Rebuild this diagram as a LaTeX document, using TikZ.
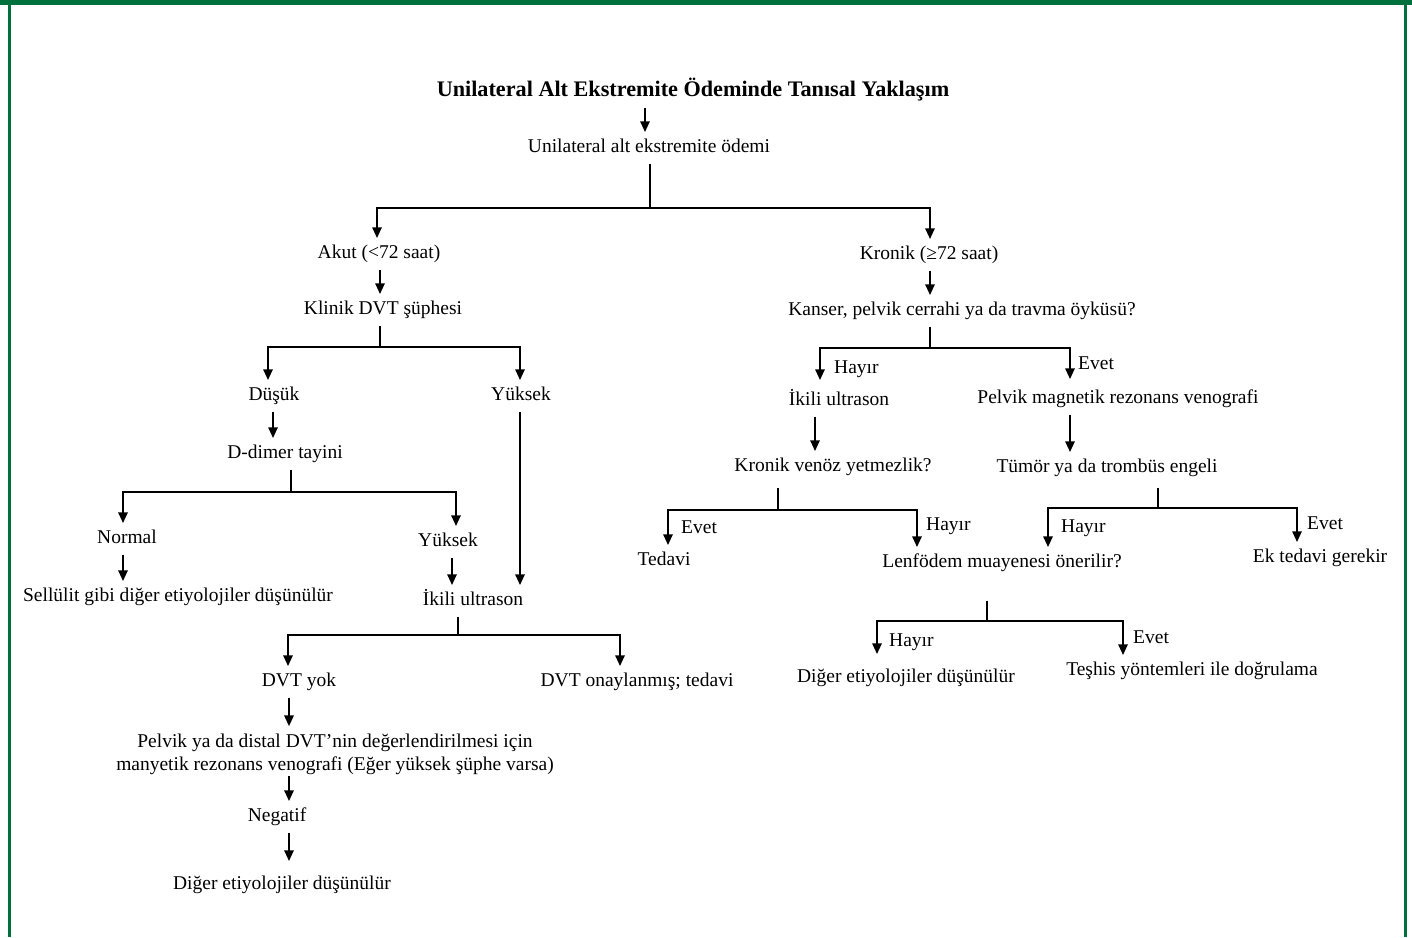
\documentclass[tikz,border=0pt]{standalone}
\usepackage{fontspec}
\setmainfont{Liberation Serif}
\usetikzlibrary{arrows.meta}
\definecolor{frame}{RGB}{0,112,60}
\begin{document}
\begin{tikzpicture}[x=1pt,y=-1pt,
  txt/.style={inner xsep=2pt, inner ysep=7pt, yshift=-3pt, text height=13pt, text depth=4pt, font=\fontsize{19.5}{23}\selectfont},
  lbl/.style={txt, anchor=west, inner xsep=0pt},
  ttl/.style={txt, font=\fontsize{22.2}{25}\selectfont\bfseries},
  ln/.style={line width=2.8pt, line join=miter},
  arr/.style={ln, -{Triangle[length=11pt,width=9pt]}}]
\useasboundingbox (0,0) rectangle (1412,937);
% frame
\fill[frame] (0,0) rectangle (1412,5);
\fill[frame] (8,0) rectangle (11,937);
\fill[frame] (1404,0) rectangle (1407,937);

% nodes
\node[ttl] (title) at (693,89) {Unilateral Alt Ekstremite Ödeminde Tanısal Yaklaşım};
\node[txt] (n1) at (649,145) {Unilateral alt ekstremite ödemi};
\node[txt] (akut) at (379,251) {Akut (<72 saat)};
\node[txt] (kronik) at (929,252) {Kronik (≥72 saat)};
\node[txt] (klinik) at (383,307) {Klinik DVT şüphesi};
\node[txt] (kanser) at (962,308) {Kanser, pelvik cerrahi ya da travma öyküsü?};
\node[txt] (dusuk) at (274,393) {Düşük};
\node[txt] (yuksekA) at (521,393) {Yüksek};
\node[txt] (ddimer) at (285,451) {D-dimer tayini};
\node[txt] (normal) at (127,536) {Normal};
\node[txt] (yuksekB) at (448,539) {Yüksek};
\node[txt] (sellulit) at (178,594) {Sellülit gibi diğer etiyolojiler düşünülür};
\node[txt] (ikiliA) at (473,598) {İkili ultrason};
\node[txt] (dvtyok) at (299,679) {DVT yok};
\node[txt] (dvtonay) at (637,679) {DVT onaylanmış; tedavi};
\node[txt, align=center, text height=, text depth=] (pelvik) at (335,751) {Pelvik ya da distal DVT’nin değerlendirilmesi için\\manyetik rezonans venografi (Eğer yüksek şüphe varsa)};
\node[txt] (negatif) at (277,814) {Negatif};
\node[txt] (digerA) at (282,882) {Diğer etiyolojiler düşünülür};

\node[txt] (ikiliB) at (839,398) {İkili ultrason};
\node[txt] (pmrv) at (1118,396) {Pelvik magnetik rezonans venografi};
\node[txt] (kvy) at (833,464) {Kronik venöz yetmezlik?};
\node[txt] (tumor) at (1107,465) {Tümör ya da trombüs engeli};
\node[txt] (tedavi) at (664,558) {Tedavi};
\node[txt] (lenf) at (1002,560) {Lenfödem muayenesi önerilir?};
\node[txt] (ektedavi) at (1320,555) {Ek tedavi gerekir};
\node[txt] (digerB) at (906,675) {Diğer etiyolojiler düşünülür};
\node[txt] (teshis) at (1192,668) {Teşhis yöntemleri ile doğrulama};

% branch labels
\node[lbl] (l1) at (834,366) {Hayır};
\node[lbl] (l2) at (1078,362) {Evet};
\node[lbl] (l3) at (681,526) {Evet};
\node[lbl] (l4) at (926,523) {Hayır};
\node[lbl] (l5) at (1061,525) {Hayır};
\node[lbl] (l6) at (1307,522) {Evet};
\node[lbl] (l7) at (889,639) {Hayır};
\node[lbl] (l8) at (1133,636) {Evet};

% junctions
\coordinate (j1) at (650,208);
\coordinate (j2) at (380,347);
\coordinate (j3) at (291,492);
\coordinate (j4) at (458,635);
\coordinate (j5) at (930,348);
\coordinate (j6) at (778,510);
\coordinate (j7) at (1158,508);
\coordinate (j8) at (987,621);

% connectors left
\draw[arr] ([xshift=-48pt]title.south) -- ([xshift=-48pt]title.south |- n1.north);
\draw[ln] (n1.south -| j1) -- (j1);
\draw[arr] (j1) -| ([xshift=-2pt]akut.north);
\draw[arr] (j1) -| ([xshift=1pt]kronik.north);
\draw[arr] ([xshift=1pt]akut.south) -- ([xshift=1pt]akut.south |- klinik.north);
\draw[ln] (klinik.south -| j2) -- (j2);
\draw[arr] (j2) -| ([xshift=-6pt]dusuk.north);
\draw[arr] (j2) -| ([xshift=-1pt]yuksekA.north);
\draw[arr] ([xshift=-1pt]dusuk.south) -- ([xshift=-1pt]dusuk.south |- ddimer.north);
\draw[ln] (ddimer.south -| j3) -- (j3);
\draw[arr] (j3) -| ([xshift=-4pt]normal.north);
\draw[arr] (j3) -| ([xshift=8pt]yuksekB.north);
\draw[arr] ([xshift=-4pt]normal.south) -- ([xshift=-4pt]normal.south |- sellulit.north);
\draw[arr] ([xshift=4pt]yuksekB.south) -- ([xshift=4pt]yuksekB.south |- ikiliA.north);
\draw[arr] ([xshift=-1pt]yuksekA.south) -- ([xshift=-1pt]yuksekA.south |- ikiliA.north);
\draw[ln] (ikiliA.south -| j4) -- (j4);
\draw[arr] (j4) -| ([xshift=-11pt]dvtyok.north);
\draw[arr] (j4) -| ([xshift=-17pt]dvtonay.north);
\draw[arr] ([xshift=-10pt]dvtyok.south) -- ([xshift=-10pt]dvtyok.south |- pelvik.north);
\draw[arr, shorten <=-6pt] ([xshift=12pt]negatif.north |- pelvik.south) -- ([xshift=12pt]negatif.north);
\draw[arr, shorten >=8pt] ([xshift=12pt]negatif.south) -- ([xshift=12pt]negatif.south |- digerA.north);

% connectors right
\draw[arr] ([xshift=1pt]kronik.south) -- ([xshift=1pt]kronik.south |- kanser.north);
\draw[ln] (kanser.south -| j5) -- (j5);
\draw[arr, shorten >=5pt] (j5) -| ([xshift=-19pt]ikiliB.north);
\draw[arr, shorten >=4pt] (j5) -| ([xshift=-48pt]pmrv.north);
\draw[arr] ([xshift=-24pt]ikiliB.south) -- ([xshift=-24pt]ikiliB.south |- kvy.north);
\draw[arr] ([xshift=-48pt]pmrv.south) -- ([xshift=-48pt]pmrv.south |- tumor.north);
\draw[ln, shorten <=5pt] (kvy.south -| j6) -- (j6);
\draw[arr] (j6) -| ([xshift=4pt]tedavi.north);
\draw[arr] (j6) -| ([xshift=-85pt]lenf.north);
\draw[ln, shorten <=4pt] (tumor.south -| j7) -- (j7);
\draw[arr] (j7) -| ([xshift=46pt]lenf.north);
\draw[arr] (j7) -| ([xshift=-23pt]ektedavi.north);
\draw[ln, shorten <=22pt] (lenf.south -| j8) -- (j8);
\draw[arr, shorten >=8pt] (j8) -| ([xshift=-29pt]digerB.north);
\draw[arr] (j8) -| ([xshift=-69pt]teshis.north);
\end{tikzpicture}
\end{document}
